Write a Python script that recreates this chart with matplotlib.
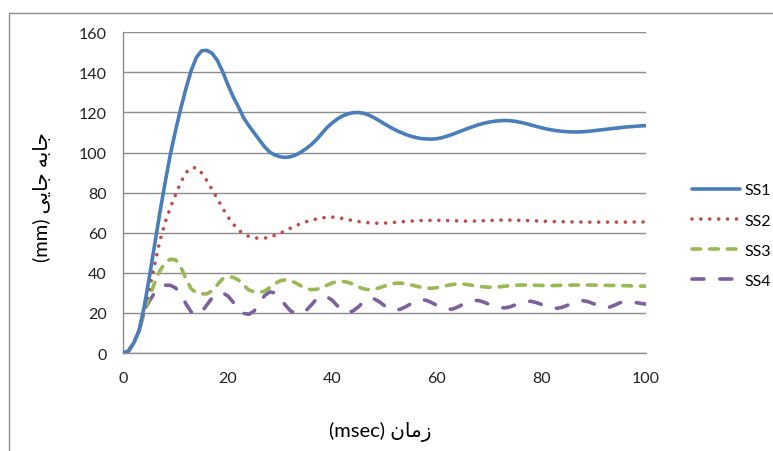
import matplotlib
matplotlib.use('Agg')
import matplotlib.pyplot as plt
from matplotlib.patches import Rectangle

# time axis (msec)
t = list(range(0, 101))

ss1 = [0, 1, 5, 11, 23, 38, 54, 70, 85, 99, 111, 122, 132, 141, 147.5, 150.8, 151, 149.5, 146, 140.5, 134,
       128, 123, 117.5, 113.5, 110, 106.5, 103, 100.3, 98.8, 97.9, 97.6, 97.9, 98.8, 100.2, 102, 104, 106.5,
       109.5, 112.5, 114.8, 116.8, 118.3, 119.3, 119.9, 120, 119.6, 118.7, 117.4, 115.9, 114.3, 112.8, 111.4,
       110.2, 109.1, 108.2, 107.5, 107, 106.8, 106.7, 106.9, 107.4, 108.2, 109.1, 110.1, 111.1, 112.1, 113,
       113.9, 114.6, 115.2, 115.6, 115.9, 116, 115.9, 115.6, 115.1, 114.5, 113.8, 113.1, 112.4, 111.8, 111.3,
       110.9, 110.6, 110.4, 110.3, 110.3, 110.4, 110.6, 110.9, 111.2, 111.5, 111.8, 112.1, 112.4, 112.7,
       112.9, 113.1, 113.3, 113.4]

ss2 = [0, 1, 5, 11, 21, 32, 44, 56, 65, 72.5, 79, 85, 90, 92.3, 92.5, 89.8, 86, 81.5, 77, 72.3, 68, 64.5,
       61.5, 59.5, 58.2, 57.5, 57.2, 57.3, 57.8, 58.7, 59.7, 61, 62.3, 63.5, 64.6, 65.5, 66.2, 66.9, 67.4,
       67.7, 67.8, 67.6, 67.1, 66.6, 66, 65.6, 65.2, 65, 64.8, 64.7, 64.8, 65, 65.2, 65.4, 65.6, 65.8, 66,
       66.1, 66.2, 66.2, 66.2, 66.2, 66.1, 66, 65.9, 65.8, 65.8, 65.8, 65.9, 66, 66.1, 66.2, 66.3, 66.3,
       66.3, 66.3, 66.2, 66.1, 66, 65.9, 65.8, 65.7, 65.6, 65.5, 65.5, 65.5, 65.4, 65.4, 65.3, 65.3, 65.3,
       65.3, 65.3, 65.3, 65.3, 65.3, 65.3, 65.3, 65.4, 65.4, 65.4]

ss3 = [0, 1, 5, 11, 20, 28, 35, 41, 45, 46.8, 46.5, 43, 37, 32, 30, 29.5, 29.5, 31, 34, 37, 38, 37.8, 36.5,
       34, 31.5, 30.5, 30.3, 30.8, 32.5, 34.5, 36, 36.5, 36, 35, 33.5, 32.2, 31.6, 31.8, 32.5, 33.8, 35,
       35.6, 35.7, 35.3, 34.3, 33, 32, 31.6, 31.8, 32.5, 33.4, 34.2, 34.8, 34.9, 34.6, 34, 33.4, 32.8, 32.4,
       32.3, 32.6, 33.1, 33.7, 34.2, 34.4, 34.4, 34.1, 33.7, 33.3, 33, 32.8, 32.8, 33, 33.3, 33.6, 33.8,
       33.9, 33.9, 33.9, 33.8, 33.7, 33.6, 33.6, 33.7, 33.8, 33.8, 33.9, 33.9, 33.9, 33.9, 33.9, 33.8, 33.8,
       33.7, 33.7, 33.6, 33.6, 33.5, 33.5, 33.4, 33.4]

ss4 = [0, 1, 5, 11, 21, 26, 30, 32.5, 33.8, 33.8, 32.5, 29.5, 24.5, 20.5, 19, 20.5, 24, 27.5, 29.5, 30,
       28.5, 25.5, 22, 19.8, 19.3, 20.8, 24.5, 28.5, 30.5, 30, 27.5, 24, 21, 19.7, 19.6, 21.2, 24, 27, 28.4,
       28, 26.3, 23.5, 21, 20.3, 21, 23, 25.6, 27.3, 27, 25.6, 23.6, 22, 21.4, 21.8, 23, 24.5, 26, 26.7,
       26.3, 25.2, 23.8, 22.5, 21.8, 21.9, 22.9, 24.3, 25.5, 26.2, 26.2, 25.4, 24.3, 23.3, 22.7, 22.5, 23,
       24, 25, 25.7, 25.8, 25.2, 24.3, 23.3, 22.5, 22.3, 22.8, 23.8, 25, 25.9, 26.1, 25.6, 24.6, 23.6, 22.9,
       22.8, 23.8, 25, 25.7, 25.6, 25.2, 24.8, 24.4]

labels = ['SS1', 'SS2', 'SS3', 'SS4']
colors = ['#4A7EBB', '#BE4B48', '#98B954', '#7D60A0']

y_ticks = [0, 20, 40, 60, 80, 100, 120, 140, 160]
x_ticks = [0, 20, 40, 60, 80, 100]

# Persian labels written in visual order with presentation forms (no bidi in matplotlib)
x_title = '(msec) \uFEE5\uFE8E\uFEE3\uFEAF'
y_title = '(mm) \uFEF0\uFEF3\uFE8E\uFE9F \uFEEA\uFE91\uFE8E\uFE9F'

plt.rcParams['font.family'] = ['Lato', 'DejaVu Sans']

fig = plt.figure(figsize=(7.73, 4.52), dpi=100)
ax = fig.add_axes([0.1595, 0.2168, 0.6758, 0.7095])

# chart area border (runs off the right/bottom of the crop)
fig.patches.append(Rectangle((8.5 / 773, -0.1), 1.1, 1 - 13.5 / 452 + 0.1, transform=fig.transFigure,
                             fill=False, edgecolor='#8c8c8c', linewidth=1.0))

lw = 2.6
ax.plot(t, ss1, color=colors[0], lw=lw, solid_capstyle='round', label=labels[0], zorder=4)
ax.plot(t, ss2, color=colors[1], lw=lw, linestyle=(0, (0.01, 2.45)), dash_capstyle='round',
        label=labels[1], zorder=3)
ax.plot(t, ss3, color=colors[2], lw=lw, linestyle=(0, (2.4, 2.5)), dash_capstyle='round',
        label=labels[2], zorder=2)
ax.plot(t, ss4, color=colors[3], lw=lw, linestyle=(0, (3.3, 4.4)), dash_capstyle='round',
        label=labels[3], zorder=1)

ax.set_xlim(0, 100)
ax.set_ylim(0, 160)
ax.set_xticks(x_ticks)
ax.set_yticks(y_ticks)
ax.tick_params(axis='both', length=0, labelsize=11.5, colors='#222222')
ax.tick_params(axis='y', pad=12)
ax.tick_params(axis='x', pad=13)

ax.grid(axis='y', color='#8c8c8c', linewidth=1.0)
ax.set_axisbelow(True)
for s in ['top', 'right']:
    ax.spines[s].set_visible(False)
for s in ['left', 'bottom']:
    ax.spines[s].set_color('#8c8c8c')
    ax.spines[s].set_linewidth(1.0)

fig.text(380 / 773, 1 - 432 / 452, x_title, ha='center', va='center', fontsize=14.5)
fig.text(42 / 773, 1 - 197 / 452, y_title, ha='center', va='center', rotation=90, fontsize=14.5)

fig.legend(loc='center left', bbox_to_anchor=(684 / 773, 1 - 236.5 / 452), frameon=False,
           borderpad=0, handlelength=3.0, handletextpad=0.3, labelspacing=1.0, fontsize=11.5)

plt.savefig('out.png', dpi=100)
